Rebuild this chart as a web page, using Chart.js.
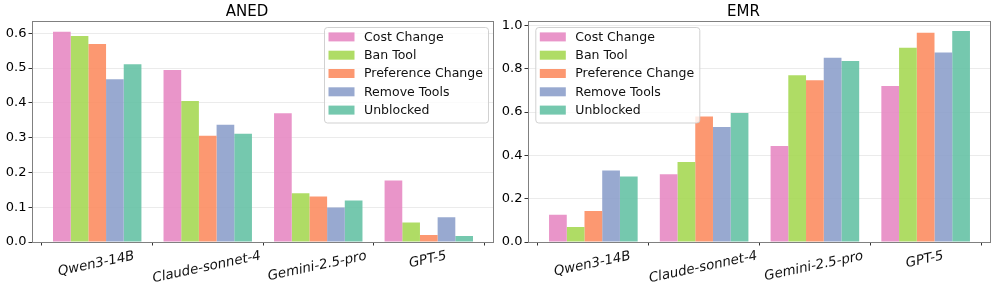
<!DOCTYPE html>
<html>
<head>
<meta charset="utf-8">
<script src="https://cdn.jsdelivr.net/npm/chart.js@4.4.1/dist/chart.umd.min.js"></script>
<style>
  html, body { margin: 0; padding: 0; background: #fff; }
  #wrap { position: relative; width: 996px; height: 295px; overflow: hidden; }
  #c1 { position: absolute; left: 0; top: 0; }
  #c2 { position: absolute; left: 496px; top: 0; }
</style>
</head>
<body>
<div id="wrap">
  <canvas id="c1" width="496" height="295"></canvas>
  <canvas id="c2" width="500" height="295"></canvas>
</div>
<script>
// ---------- data ----------
const categories = ['Qwen3-14B', 'Claude-sonnet-4', 'Gemini-2.5-pro', 'GPT-5'];
const seriesNames = ['Cost Change', 'Ban Tool', 'Preference Change', 'Remove Tools', 'Unblocked'];
const seriesColors = ['rgba(231,138,195,0.9)', 'rgba(166,216,84,0.9)', 'rgba(252,141,98,0.9)', 'rgba(141,160,203,0.9)', 'rgba(102,194,165,0.9)'];

// ANED values per series (order of categories)
const anedCostChange = [0.604, 0.494, 0.370, 0.177];
const anedBanTool = [0.592, 0.405, 0.140, 0.056];
const anedPreferenceChange = [0.569, 0.305, 0.131, 0.020];
const anedRemoveTools = [0.468, 0.337, 0.099, 0.071];
const anedUnblocked = [0.511, 0.311, 0.119, 0.017];

// EMR values per series
const emrCostChange = [0.126, 0.313, 0.443, 0.720];
const emrBanTool = [0.069, 0.369, 0.770, 0.897];
const emrPreferenceChange = [0.143, 0.580, 0.747, 0.966];
const emrRemoveTools = [0.330, 0.531, 0.851, 0.875];
const emrUnblocked = [0.303, 0.596, 0.836, 0.974];

const anedTicks = [0.0, 0.1, 0.2, 0.3, 0.4, 0.5, 0.6];
const emrTicks = [0.0, 0.2, 0.4, 0.6, 0.8, 1.0];
const anedMax = 0.636;
const emrMax = 1.022;

// ---------- helpers ----------
const FONT = "'DejaVu Sans', 'Liberation Sans', sans-serif";
const ROT = 12 * Math.PI / 180;

function buildDatasets(seriesArrays) {
  return seriesArrays.map((vals, s) => ({
    label: seriesNames[s],
    data: vals.map((v, i) => ({ x: i, y: v })),
    backgroundColor: seriesColors[s],
    borderWidth: 0,
    categoryPercentage: 0.8,
    barPercentage: 1.0
  }));
}

const decorPlugin = {
  id: 'decor',
  afterDatasetsDraw(chart, args, opts) {
    const ctx = chart.ctx;
    const a = chart.chartArea;
    ctx.save();
    // spines
    ctx.strokeStyle = '#808080';
    ctx.lineWidth = 1;
    ctx.strokeRect(Math.round(a.left) + 0.5, Math.round(a.top) + 0.5,
                   Math.round(a.right) - Math.round(a.left) - 1, Math.round(a.bottom) - Math.round(a.top));
    // legend
    const w = 164, h = 95.5;
    const fx = opts.legendSide === 'right' ? a.right - 6 - w : a.left + 7.3;
    const fy = a.top + 6.3;
    ctx.beginPath();
    if (ctx.roundRect) ctx.roundRect(fx + 0.5, fy + 0.5, w, h, 3); else ctx.rect(fx + 0.5, fy + 0.5, w, h);
    ctx.fillStyle = 'rgba(255,255,255,0.8)';
    ctx.fill();
    ctx.strokeStyle = 'rgba(204,204,204,0.9)';
    ctx.stroke();
    ctx.font = '12.5px ' + FONT;
    ctx.textBaseline = 'middle';
    ctx.textAlign = 'left';
    chart.data.datasets.forEach((ds, i) => {
      const cy = fy + 9.9 + i * 18.3;
      ctx.fillStyle = ds.backgroundColor;
      ctx.fillRect(fx + 4.5, cy - 4.5, 26, 9);
      ctx.fillStyle = '#111';
      ctx.fillText(ds.label, fx + 40, cy + 0.5);
    });
    // x category labels (rotated, centred on tick like matplotlib)
    const xs = chart.scales.x;
    ctx.font = 'italic 13.4px ' + FONT;
    ctx.textAlign = 'center';
    ctx.textBaseline = 'middle';
    ctx.fillStyle = '#111';
    categories.forEach((c, i) => {
      const px = xs.getPixelForValue(i);
      const tw = ctx.measureText(c).width;
      const bh = tw * Math.sin(ROT) + 12 * Math.cos(ROT);
      const cy = a.bottom + 8 + bh / 2;
      ctx.save();
      ctx.translate(px - 1, cy);
      ctx.rotate(-ROT);
      ctx.fillText(c, 0, 0);
      ctx.restore();
    });
    ctx.restore();
  }
};

function makeChart(canvasId, title, seriesArrays, yMax, yTicks, padRight, legendSide) {
  return new Chart(document.getElementById(canvasId), {
    type: 'bar',
    data: { datasets: buildDatasets(seriesArrays) },
    options: {
      responsive: false,
      animation: false,
      devicePixelRatio: 1,
      layout: { padding: { left: 0, right: padRight, top: 0, bottom: 0 } },
      plugins: {
        legend: { display: false },
        tooltip: { enabled: false },
        title: {
          display: true,
          text: title,
          color: '#000',
          font: { family: FONT, size: 15, weight: 'normal', lineHeight: 1.2 },
          padding: { top: 2.7, bottom: 0 }
        },
        decor: { legendSide: legendSide }
      },
      scales: {
        x: {
          type: 'linear',
          min: -0.59,
          max: 3.59,
          offset: false,
          grid: { display: true, drawOnChartArea: false, drawTicks: true, tickLength: 3.5, tickColor: '#333', tickWidth: 1 },
          border: { display: false },
          afterBuildTicks: (s) => { s.ticks = categories.map((c, i) => ({ value: i })); },
          ticks: { callback: () => '', padding: 0, maxRotation: 0, autoSkip: false },
          afterFit: (s) => { s.height = 53; }
        },
        y: {
          min: 0,
          max: yMax,
          grid: { color: 'rgba(0,0,0,0.08)', lineWidth: 1, drawTicks: true, tickLength: 3.5, tickColor: '#333', tickWidth: 1 },
          border: { display: false },
          afterBuildTicks: (s) => { s.ticks = yTicks.map(v => ({ value: v })); },
          ticks: {
            color: '#000',
            padding: 2,
            font: { family: FONT, size: 13 },
            callback: (v) => Number(v).toFixed(1)
          },
          afterFit: (s) => { s.width = 32; }
        }
      }
    },
    plugins: [decorPlugin]
  });
}

makeChart('c1', 'ANED',
  [anedCostChange, anedBanTool, anedPreferenceChange, anedRemoveTools, anedUnblocked],
  anedMax, anedTicks, 2, 'right');
makeChart('c2', 'EMR',
  [emrCostChange, emrBanTool, emrPreferenceChange, emrRemoveTools, emrUnblocked],
  emrMax, emrTicks, 5, 'left');
</script>
</body>
</html>
